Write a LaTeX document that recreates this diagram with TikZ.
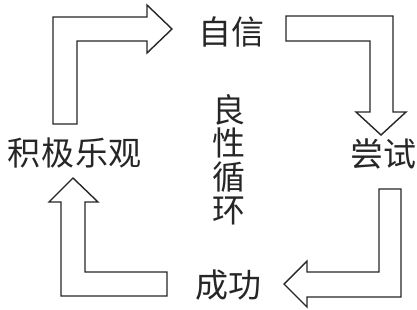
\documentclass[tikz,border=0pt]{standalone}
\usepackage{fontspec}
\newfontfamily\cjk{Noto Sans CJK SC}
\tikzset{
  bigarrow/.style={draw=black!85, line width=1.4pt, line join=miter, fill=white},
  lbl/.style={font=\cjk\fontsize{33}{33.5}\selectfont, text=black!85, inner sep=0pt}
}
\begin{document}
\begin{tikzpicture}[x=1pt,y=-1pt]
\useasboundingbox (0,0) rectangle (417,309);
% arrow 1: up-left corner, pointing right
\draw[bigarrow] (53,124) -- (53,17) -- (147,17) -- (147,5) -- (172,29) -- (147,53) -- (147,41) -- (77,41) -- (77,124) -- cycle;
% arrow 2: top-right corner, pointing down
\draw[bigarrow] (286,16) -- (393,16) -- (393,112) -- (406,112) -- (381,135) -- (356,112) -- (370,112) -- (370,41) -- (286,41) -- cycle;
% arrow 3: bottom-right corner, pointing left
\draw[bigarrow] (379,189) -- (401,189) -- (401,297) -- (307,297) -- (307,307) -- (284,284) -- (307,261) -- (307,272) -- (379,272) -- cycle;
% arrow 4: bottom-left corner, pointing up
\draw[bigarrow] (61,296) -- (61,202) -- (49,202) -- (73,178) -- (98,202) -- (85,202) -- (85,272) -- (167,272) -- (167,296) -- cycle;
\node[lbl] (zixin) at (231,32) {自信};
\node[lbl] (changshi) at (383,154) {尝试};
\node[lbl] (chenggong) at (228,285) {成功};
\node[lbl] (jiji) at (75,153) {积极\hspace{2pt}乐观};
\node[lbl, align=center] (xunhuan) at (229,160) {良\\性\\循\\环};
\end{tikzpicture}
\end{document}
